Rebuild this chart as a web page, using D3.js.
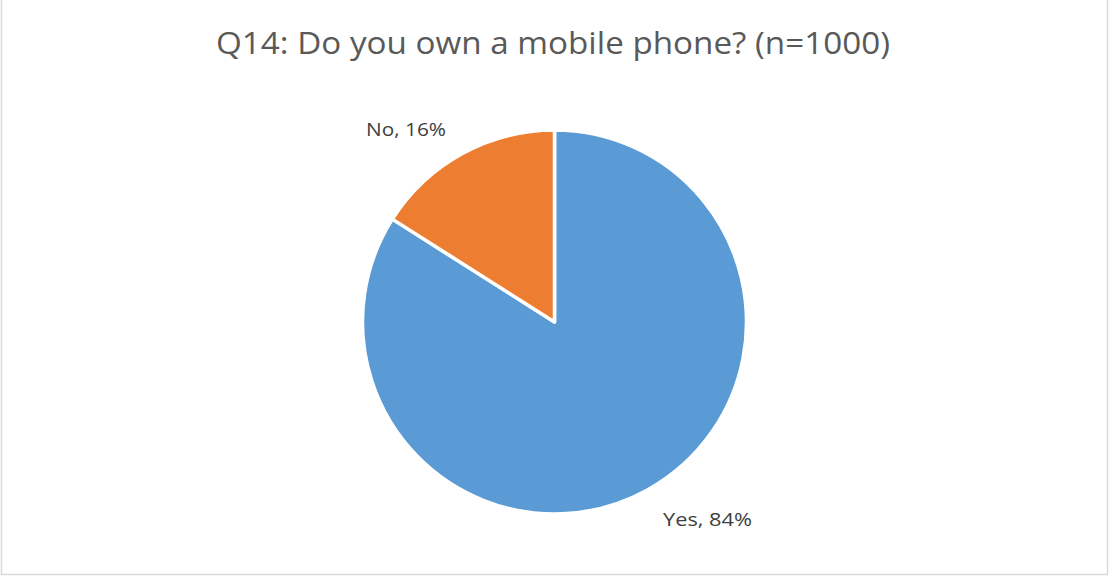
<!DOCTYPE html>
<html><head><meta charset="utf-8">
<script src="https://cdn.jsdelivr.net/npm/d3@7"></script>
<style>html,body{margin:0;padding:0;background:#fff;}svg{display:block;}</style>
</head><body>
<script>
const categories = ["Yes", "No"];
const values = [84, 16];
const colors = ["#5B9BD5", "#ED7D31"];
const title = "Q14: Do you own a mobile phone? (n=1000)";

const W = 1111, H = 577;
const svg = d3.select("body").append("svg").attr("width", W).attr("height", H);
svg.append("rect").attr("x", 1.5).attr("y", -2).attr("width", 1106).attr("height", 576.5)
  .attr("fill", "#fff").attr("stroke", "#d9d9d9").attr("stroke-width", 1.5);

svg.append("text").attr("x", 553).attr("y", 54).attr("text-anchor", "middle")
  .attr("font-family", "Open Sans, Liberation Sans, sans-serif").attr("font-size", 31)
  .attr("fill", "#595959").attr("textLength", 674).attr("lengthAdjust", "spacingAndGlyphs")
  .text(title);

const cx = 554.5, cy = 322, r = 192;
const pie = d3.pie().sort(null).value(d => d.v);
const data = pie(categories.map((c, i) => ({c, v: values[i]})));
const arc = d3.arc().innerRadius(0).outerRadius(r);
const g = svg.append("g").attr("transform", `translate(${cx},${cy})`);
g.selectAll("path").data(data).join("path")
  .attr("d", arc).attr("fill", (d, i) => colors[i])
  .attr("stroke", "#fff").attr("stroke-width", 3.5).attr("stroke-linejoin", "round");

const labelPos = [
  {x: 663, y: 526, w: 89},
  {x: 366, y: 136, w: 80}
];
g.selectAll("text.lbl").data(data).join("text").attr("class", "lbl")
  .attr("x", (d, i) => labelPos[i].x - cx).attr("y", (d, i) => labelPos[i].y - cy)
  .attr("text-anchor", "start")
  .attr("font-family", "Open Sans, Liberation Sans, sans-serif").attr("font-size", 19)
  .attr("fill", "#404040")
  .attr("textLength", (d, i) => labelPos[i].w).attr("lengthAdjust", "spacingAndGlyphs")
  .text(d => `${d.data.c}, ${d.data.v}%`);
</script>
</body></html>
